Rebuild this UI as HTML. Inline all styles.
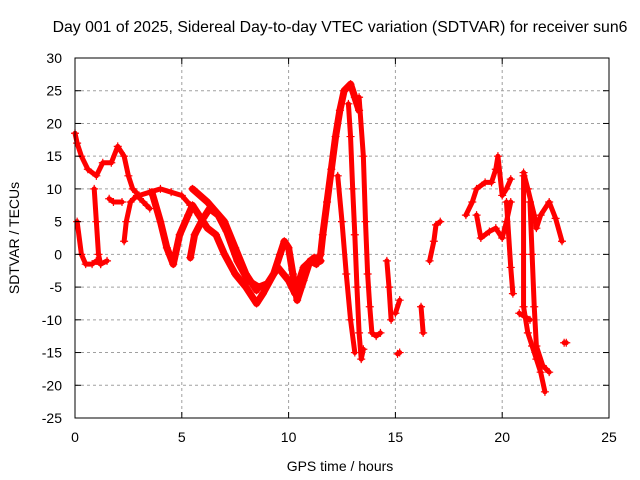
<!DOCTYPE html>
<html><head><meta charset="utf-8"><style>
html,body{margin:0;padding:0;background:#fff}
svg{display:block;font-family:"Liberation Sans",Arial,sans-serif}
</style></head><body>
<svg id="chart" width="640" height="480">
<rect width="640" height="480" fill="#fff"/>
<text x="340" y="32" font-size="15.8" text-anchor="middle">Day 001 of 2025, Sidereal Day-to-day VTEC variation (SDTVAR) for receiver sun6</text>
<text x="340" y="471" font-size="14" text-anchor="middle">GPS time / hours</text>
<text transform="translate(19,238) rotate(-90)" font-size="14" text-anchor="middle">SDTVAR / TECUs</text>
<g id="grid"></g><g id="marks"></g><g id="axes"></g>
</svg>
<script>
const xTicks=[0,5,10,15,20,25];
const yTicks=[30,25,20,15,10,5,0,-5,-10,-15,-20,-25];
const track1=[[0,18.5],[0.1,17],[0.3,15],[0.6,13],[1,12],[1.3,14],[1.7,14],[2,16.5],[2.3,15],[2.5,12],[2.7,10],[3,9],[3.5,9.5],[4,10],[4.5,9.5],[5,9],[5.4,7.5]];
const track2=[[0.1,5],[0.3,0],[0.5,-1.5],[0.8,-1.5],[1,-1],[1.2,-1.5],[1.5,-1]];
const track3=[[0.9,10],[1.0,5],[1.1,0],[1.2,-1.5]];
const track4=[[1.6,8.5],[1.8,8],[2.2,8]];
const track5=[[2.3,2],[2.4,5],[2.6,8],[2.9,9],[3.2,8],[3.5,7]];
const track6=[[3.6,9.5],[4,5],[4.3,1],[4.6,-1.5],[4.9,3],[5.3,6],[5.5,7.5],[5.8,6],[6.2,4],[6.6,3],[7,0],[7.5,-3],[8,-5],[8.5,-7.5],[8.8,-6],[9.3,-3],[9.6,0],[9.8,2],[10,1],[10.2,-3],[10.4,-7],[10.7,-4],[11,-1],[11.3,-1.5],[11.5,0],[11.6,3],[11.8,8],[12,13],[12.2,18],[12.4,22],[12.6,25],[12.9,26],[13.1,24],[13.3,22]];
const track7=[[5.4,-0.5],[5.6,3],[6,5.5],[6.3,7],[6.7,6],[7.1,3.5],[7.6,-1],[8.1,-4],[8.6,-5],[9,-4.5],[9.5,-2],[10,-4],[10.3,-6],[10.7,-2],[11.2,-0.5],[11.5,-1]];
const track8=[[5.5,10],[6.2,8],[7,5],[7.5,1],[8,-3],[8.5,-5.5]];
const track9=[[12.8,23],[12.9,18],[13,10],[13.1,3],[13.2,-5],[13.3,-12],[13.4,-16],[13.5,-14.5]];
const track10=[[13.3,24],[13.5,15],[13.6,5],[13.7,-3],[13.8,-8],[13.9,-12],[14.1,-12.5],[14.3,-12]];
const track11=[[12.3,12],[12.5,5],[12.7,-3],[12.9,-10],[13.1,-15]];
const track12=[[14.6,-1],[14.7,-5],[14.8,-10]];
const track13=[[15.0,-9],[15.2,-7]];
const track14=[[15.1,-15.2],[15.2,-15]];
const track15=[[16.2,-8],[16.3,-12]];
const track16=[[16.6,-1],[16.8,2],[16.9,4.5],[17.1,5]];
const track17=[[18.3,6],[18.6,8],[18.8,10],[19.2,11],[19.5,11],[19.7,13],[19.8,15],[20,9],[20.2,10],[20.4,11.5]];
const track18=[[18.8,6],[19,2.5],[19.4,3.5],[19.7,4],[20,2.5],[20.2,5],[20.4,8]];
const track19=[[20.2,8],[20.4,-2],[20.5,-6]];
const track20=[[21,12.5],[21.2,10],[21.5,6],[21.6,4],[21.8,6],[22.2,8],[22.5,5.5],[22.8,2]];
const track21=[[21,12],[21,0],[21,-8],[21.2,-12],[21.4,-14],[21.6,-16],[21.8,-18],[22,-21]];
const track22=[[21.3,8],[21.4,0],[21.5,-8],[21.6,-14],[21.9,-17],[22.2,-18]];
const track23=[[20.8,-9],[21.3,-10]];
const track24=[[22.9,-13.5],[23,-13.5]];
const tracks=[track1,track2,track3,track4,track5,track6,track7,track8,track9,track10,track11,track12,track13,track14,track15,track16,track17,track18,track19,track20,track21,track22,track23,track24];

const L=75,R=609,T=58,B=418;
function xs(v){return L+(v-0)/(25-0)*(R-L);}
function ys(v){return T+(30-v)/(30-(-25))*(B-T);}
const NS="http://www.w3.org/2000/svg";
function mk(tag,attrs,parent){const e=document.createElementNS(NS,tag);for(const k in attrs)e.setAttribute(k,attrs[k]);parent.appendChild(e);return e;}
const grid=document.getElementById('grid'),axes=document.getElementById('axes'),marks=document.getElementById('marks');
xTicks.forEach(t=>{
  const x=xs(t);
  if(t>0&&t<25){const g=mk('line',{x1:x,x2:x,y1:T,y2:B,stroke:'#a0a0a0','stroke-dasharray':'3,3'},grid);
  
  }
  mk('line',{x1:x,x2:x,y1:B,y2:B-6,stroke:'#000'},axes);
  mk('line',{x1:x,x2:x,y1:T,y2:T+6,stroke:'#000'},axes);
  const tx=mk('text',{x:x,y:B+24,'font-size':14,'text-anchor':'middle'},axes);tx.textContent=t;
  
  
});
yTicks.forEach(t=>{
  const y=ys(t);
  if(t<30&&t>-25){const g=mk('line',{x1:L,x2:R,y1:y,y2:y,stroke:'#a0a0a0','stroke-dasharray':'3,3'},grid);
  
  }
  mk('line',{x1:L,x2:L+6,y1:y,y2:y,stroke:'#000'},axes);
  mk('line',{x1:R,x2:R-6,y1:y,y2:y,stroke:'#000'},axes);
  const tx=mk('text',{x:L-13,y:y+5,'font-size':14,'text-anchor':'end'},axes);tx.textContent=t;
  
  
});
const frame=mk('rect',{x:L,y:T,width:R-L,height:B-T,fill:'none',stroke:'#000'},axes);


tracks.forEach((tr,i)=>{
  const w=(i>=5&&i<=7)?7:5;
  const pl=mk('polyline',{points:tr.map(p=>xs(p[0])+','+ys(p[1])).join(' '),fill:'none',stroke:'#ff0000','stroke-width':w,'stroke-linejoin':'round','stroke-linecap':'round'},marks);
  
  
  tr.forEach(p=>{
    const x=xs(p[0]),y=ys(p[1]);
    const m=mk('path',{d:`M${x-4},${y}H${x+4}M${x},${y-4}V${y+4}`,stroke:'#ff0000','stroke-width':1.2},marks);
    
    
  });
});
</script>
</body></html>
